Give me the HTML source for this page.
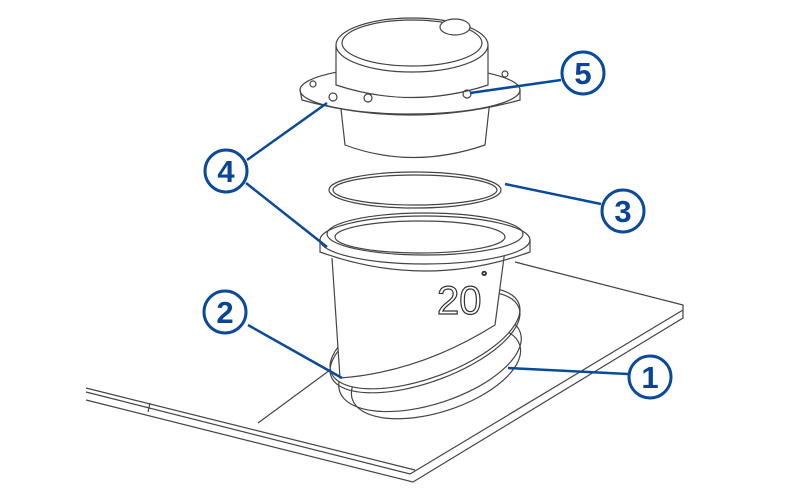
<!DOCTYPE html>
<html><head><style>body{margin:0;background:#fff}svg{display:block}</style></head><body>
<svg width="800" height="500" viewBox="0 0 800 500" xmlns="http://www.w3.org/2000/svg">
<g fill="none" stroke="#444" stroke-width="1.2">
<!-- plate -->
<path d="M86,388 L415,470 M86,400 L413,482 L683,318 L683,305 L515,262 M86,392 L410,474 L683,310"/>
<path d="M258,423 L330,370 M150,403 L148,412"/>
<!-- base washers -->
<ellipse cx="430" cy="362" rx="95" ry="42" transform="rotate(-18 430 362)"/>
<ellipse cx="436" cy="372" rx="88" ry="40" transform="rotate(-18 436 372)"/>
<ellipse cx="425" cy="338" rx="100" ry="40" transform="rotate(-20 425 338)" fill="#fff"/>
<ellipse cx="425" cy="342" rx="100" ry="40" transform="rotate(-20 425 342)"/>
<!-- lower housing body -->
<path d="M332,258 L340,378 Q420,372 495,325 L505,250" fill="#fff"/>
<ellipse cx="425" cy="240" rx="105" ry="24" fill="#fff"/>
<ellipse cx="425" cy="234" rx="98" ry="21"/>
<ellipse cx="420" cy="237" rx="85" ry="16"/>
<path d="M320,240 L320,252 Q425,290 530,252 L530,240"/>
<!-- o-ring -->
<ellipse cx="415" cy="190" rx="86" ry="18"/>
<ellipse cx="415" cy="190" rx="82" ry="15"/>
<!-- top unit -->
<path d="M340,100 L345,145 Q412,170 485,145 L490,100" fill="#fff"/>
<ellipse cx="410" cy="90" rx="110" ry="24" fill="#fff"/>
<path d="M300,90 L302,100 Q410,130 520,100 L520,90"/>
<path d="M336,45 L336,85 Q412,110 488,85 L488,45" fill="#fff"/>
<ellipse cx="412" cy="45" rx="76" ry="27" fill="#fff"/>
<ellipse cx="412" cy="43" rx="70" ry="23"/>
<ellipse cx="455" cy="27" rx="15" ry="8" fill="#fff"/>
<circle cx="333" cy="97" r="4"/><circle cx="368" cy="98" r="4"/><circle cx="467" cy="94" r="4"/><circle cx="313" cy="84" r="3"/><circle cx="505" cy="74" r="3"/>
</g>
<text x="437" y="314" font-family="Liberation Sans, sans-serif" font-size="40" fill="#fff" stroke="#333" stroke-width="1.2">20</text>
<text x="481" y="282" font-family="Liberation Sans, sans-serif" font-size="16" fill="#fff" stroke="#333" stroke-width="1">°</text>
<g stroke="#0a4a9a" stroke-width="3" fill="#fff">
<path d="M561,80 L470,93 M247,160 L327,103 M246,183 L327,247 M601,204 L505,184 M248,325 L342,378 M628,374 L508,368" fill="none" stroke-width="2.5"/>
<circle cx="583" cy="73" r="21"/><circle cx="226" cy="171" r="21"/><circle cx="623" cy="211" r="21"/><circle cx="225" cy="312" r="21"/><circle cx="650" cy="377" r="21"/>
</g>
<g font-family="Liberation Sans, sans-serif" font-size="31" font-weight="bold" fill="#0a4495" text-anchor="middle">
<text x="583" y="84">5</text><text x="226" y="182">4</text><text x="623" y="222">3</text><text x="225" y="323">2</text><text x="650" y="388">1</text>
</g>
</svg>
</body></html>
